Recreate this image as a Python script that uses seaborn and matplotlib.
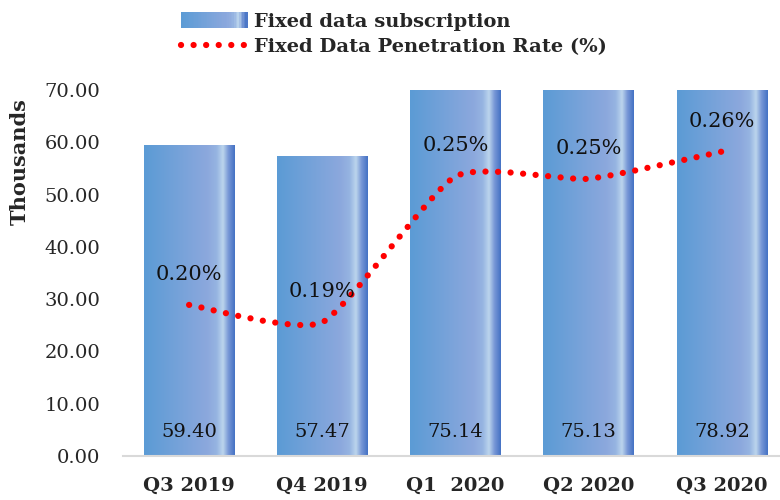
import numpy as np
import pandas as pd
import matplotlib
matplotlib.use("Agg")
import matplotlib.pyplot as plt
import seaborn as sns
from matplotlib.path import Path
from matplotlib.patches import PathPatch, Rectangle
from matplotlib.colors import LinearSegmentedColormap
from matplotlib.legend_handler import HandlerBase
from matplotlib.lines import Line2D

# ---- data ----
quarters = ["Q3 2019", "Q4 2019", "Q1  2020", "Q2 2020", "Q3 2020"]
subscriptions = [59.40, 57.47, 75.14, 75.13, 78.92]          # thousands
penetration = [0.201, 0.194, 0.253, 0.252, 0.263]             # percent
penetration_labels = ["0.20%", "0.19%", "0.25%", "0.25%", "0.26%"]
bar_labels = ["59.40", "57.47", "75.14", "75.13", "78.92"]
y_ticks = [0, 10, 20, 30, 40, 50, 60, 70]

sns.set_theme(style="white")
plt.rcParams["font.family"] = ["DejaVu Serif"]

df = pd.DataFrame({"quarter": quarters, "subs": subscriptions})

fig = plt.figure(figsize=(7.8, 5.0), dpi=100)
ax = fig.add_axes([122.5 / 780, 44 / 500, 666 / 780, 366 / 500])

sns.barplot(data=df, x="quarter", y="subs", ax=ax, color="#5B9BD5",
            width=0.68, saturation=1)

grad_cmap = LinearSegmentedColormap.from_list(
    "bargrad",
    [(0.0, (91/255, 155/255, 213/255)),
     (0.70, (140/255, 168/255, 221/255)),
     (0.80, (150/255, 180/255, 225/255)),
     (0.87, (188/255, 213/255, 237/255)),
     (0.93, (120/255, 152/255, 214/255)),
     (1.0, (68/255, 114/255, 196/255))])
grad = np.linspace(0, 1, 256).reshape(1, -1)

ax.set_ylim(0, 70)
ax.set_xlim(-0.5, 4.5)
for p in list(ax.patches):
    x0 = p.get_x()
    w = p.get_width()
    h = p.get_height()
    im = ax.imshow(grad, cmap=grad_cmap, aspect="auto",
                   extent=[x0, x0 + w, 0, min(h, 70)],
                   interpolation="bilinear", zorder=p.get_zorder() + 0.1)
    im.set_clip_path(p)
ax.set_ylim(0, 70)
ax.set_xlim(-0.5, 4.5)

# bar value labels (inside base)
for i, lab in enumerate(bar_labels):
    ax.annotate(lab, xy=(i, 0), xytext=(0, 17), textcoords="offset points",
                ha="center", va="center", fontsize=14, color="#111111", zorder=5)

ax.set_yticks(y_ticks)
ax.set_yticklabels([f"{v:.2f}" for v in y_ticks], fontsize=14)
ax.tick_params(axis="y", length=0, pad=16)
ax.tick_params(axis="x", length=0, pad=15)
for t in ax.get_xticklabels():
    t.set_fontweight("bold")
    t.set_fontsize(14)
ax.set_xlabel("")
ax.set_ylabel("")
for s in ["top", "right", "left"]:
    ax.spines[s].set_visible(False)
ax.spines["bottom"].set_color("#D9D9D9")
ax.spines["bottom"].set_linewidth(1.5)
ax.grid(False)

# ---- secondary axis: smoothed dotted line ----
ax2 = ax.twinx()
ax2.set_ylim(0.1399, 0.2879)
ax2.set_xlim(-0.5, 4.5)
ax2.axis("off")

xs = np.arange(len(penetration), dtype=float)
pts = np.column_stack([xs, np.array(penetration)])
# smoothed cubic Bezier path through the data points
verts = [tuple(pts[0])]
codes = [Path.MOVETO]
n = len(pts)
tension = 1.0 / 11.0
for i in range(n - 1):
    p0 = pts[i - 1] if i > 0 else pts[i]
    p1 = pts[i]
    p2 = pts[i + 1]
    p3 = pts[i + 2] if i + 2 < n else pts[i + 1]
    c1 = p1 + (p2 - p0) * tension
    c2 = p2 - (p3 - p1) * tension
    verts += [tuple(c1), tuple(c2), tuple(p2)]
    codes += [Path.CURVE4, Path.CURVE4, Path.CURVE4]
curve = PathPatch(Path(verts, codes), fill=False, edgecolor="#FF0000",
                  linewidth=4.5, linestyle=(0, (0.01, 2.0)),
                  capstyle="round", zorder=6)
ax2.add_patch(curve)

for i, lab in enumerate(penetration_labels):
    ax2.annotate(lab, xy=(xs[i], penetration[i]), xytext=(0, 22),
                 textcoords="offset points", ha="center", va="center",
                 fontsize=15, color="#111111", zorder=7)

# ---- y label ----
fig.text(20 / 780, 1 - 162 / 500, "Thousands", rotation=90, ha="center",
         va="center", fontsize=15, fontweight="bold")

# ---- legend ----
class GradientHandler(HandlerBase):
    def create_artists(self, legend, orig_handle, xdescent, ydescent,
                       width, height, fontsize, trans):
        arts = []
        nseg = 40
        for k in range(nseg):
            c = grad_cmap((k + 0.5) / nseg)
            r = Rectangle((-xdescent + width * k / nseg, -ydescent - 1),
                          width / nseg + 0.3, height + 2, facecolor=c,
                          edgecolor="none", transform=trans)
            arts.append(r)
        return arts

bar_handle = Rectangle((0, 0), 1, 1)
line_handle = Line2D([], [], color="#FF0000", linewidth=4.5,
                     linestyle=(0, (0.01, 2.0)), dash_capstyle="round")
leg = fig.legend([bar_handle, line_handle],
                 ["Fixed data subscription", "Fixed Data Penetration Rate (%)"],
                 handler_map={Rectangle: GradientHandler()},
                 loc="upper left", bbox_to_anchor=(181 / 780, 1 - 13 / 500),
                 frameon=False, prop={"weight": "bold", "size": 14},
                 handlelength=3.4, handletextpad=0.35, labelspacing=0.35,
                 borderpad=0, borderaxespad=0)

fig.savefig("out.png", dpi=100)
